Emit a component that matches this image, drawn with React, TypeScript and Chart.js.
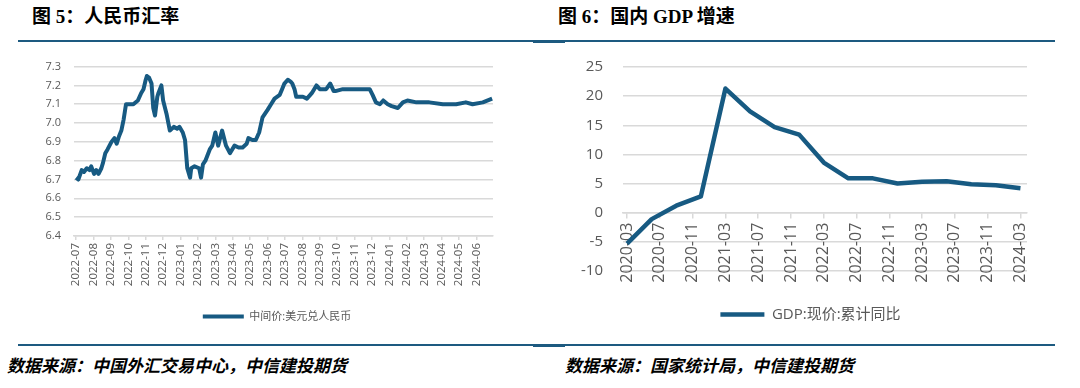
import React, { useEffect, useRef } from 'react';
import { Chart, registerables } from 'chart.js';

Chart.register(...registerables);

// ---------- Figure 5: RMB exchange rate (daily central parity) ----------
const fxSeriesName = '中间价:美元兑人民币';
const fxTickLabels = [
  '2022-07', '2022-08', '2022-09', '2022-10', '2022-11', '2022-12',
  '2023-01', '2023-02', '2023-03', '2023-04', '2023-05', '2023-06',
  '2023-07', '2023-08', '2023-09', '2023-10', '2023-11', '2023-12',
  '2024-01', '2024-02', '2024-03', '2024-04', '2024-05', '2024-06',
];
const fxYTicks = [6.4, 6.5, 6.6, 6.7, 6.8, 6.9, 7.0, 7.1, 7.2, 7.3];
const fxDates = [
  '2022-07-01', '2022-07-05', '2022-07-11', '2022-07-15', '2022-07-20', '2022-07-25', '2022-07-28',
  '2022-08-02', '2022-08-06', '2022-08-10', '2022-08-15', '2022-08-18', '2022-08-22', '2022-08-26',
  '2022-09-02', '2022-09-07', '2022-09-11', '2022-09-15', '2022-09-19', '2022-09-23', '2022-09-27',
  '2022-10-10', '2022-10-18', '2022-10-24', '2022-10-28',
  '2022-11-01', '2022-11-03', '2022-11-07', '2022-11-11', '2022-11-14', '2022-11-17', '2022-11-21',
  '2022-11-23', '2022-11-28',
  '2022-12-01', '2022-12-07', '2022-12-13', '2022-12-20', '2022-12-26', '2022-12-30',
  '2023-01-05', '2023-01-09', '2023-01-13', '2023-01-18', '2023-01-20', '2023-01-26',
  '2023-02-03', '2023-02-06', '2023-02-09', '2023-02-13', '2023-02-20', '2023-02-24',
  '2023-03-01', '2023-03-06', '2023-03-13', '2023-03-20', '2023-03-27',
  '2023-04-04', '2023-04-11', '2023-04-18', '2023-04-25', '2023-04-28',
  '2023-05-05', '2023-05-11', '2023-05-17', '2023-05-23',
  '2023-06-01', '2023-06-07', '2023-06-13', '2023-06-22', '2023-06-26', '2023-06-30',
  '2023-07-06', '2023-07-11', '2023-07-14', '2023-07-18', '2023-07-21', '2023-07-27',
  '2023-08-02', '2023-08-09', '2023-08-15', '2023-08-18', '2023-08-26',
  '2023-09-01', '2023-09-06', '2023-09-12', '2023-09-19', '2023-09-25', '2023-09-28',
  '2023-10-11', '2023-11-09', '2023-11-27',
  '2023-12-02', '2023-12-08', '2023-12-15', '2023-12-21', '2023-12-29',
  '2024-01-05', '2024-01-16', '2024-01-25',
  '2024-02-02', '2024-02-17', '2024-03-10', '2024-04-03', '2024-04-26',
  '2024-05-13', '2024-05-25', '2024-06-12', '2024-06-28',
];
const fxValues = [
  6.71, 6.70, 6.75, 6.74, 6.76, 6.75, 6.77,
  6.73, 6.75, 6.73, 6.76, 6.79, 6.84, 6.86,
  6.90, 6.92, 6.89, 6.93, 6.96, 7.02, 7.10,
  7.10, 7.12, 7.16, 7.18,
  7.23, 7.25, 7.24, 7.21, 7.08, 7.04, 7.14,
  7.16, 7.20,
  7.12, 7.05, 6.96, 6.98, 6.97, 6.98,
  6.95, 6.91, 6.76, 6.71, 6.76, 6.77,
  6.76, 6.71, 6.78, 6.80, 6.86, 6.88,
  6.95, 6.88, 6.96, 6.88, 6.84,
  6.88, 6.87, 6.87, 6.89, 6.92,
  6.91, 6.91, 6.95, 7.03,
  7.07, 7.10, 7.13, 7.15, 7.18, 7.21,
  7.23, 7.22, 7.21, 7.18, 7.14, 7.14,
  7.14, 7.13, 7.15, 7.16, 7.20,
  7.18, 7.18, 7.18, 7.21, 7.17, 7.17,
  7.18, 7.18, 7.18,
  7.15, 7.11, 7.10, 7.12, 7.10,
  7.09, 7.08, 7.11,
  7.12, 7.11, 7.11, 7.10, 7.10,
  7.11, 7.10, 7.11, 7.13,
];

// ---------- Figure 6: GDP growth (quarterly, cumulative YoY, nominal) ----------
const gdpSeriesName = 'GDP:现价:累计同比';
const gdpTickLabels = [
  '2020-03', '2020-07', '2020-11', '2021-03', '2021-07', '2021-11', '2022-03',
  '2022-07', '2022-11', '2023-03', '2023-07', '2023-11', '2024-03',
];
const gdpYTicks = [-10, -5, 0, 5, 10, 15, 20, 25];
const gdpDates = [
  '2020-03', '2020-06', '2020-09', '2020-12', '2021-03', '2021-06', '2021-09', '2021-12',
  '2022-03', '2022-06', '2022-09', '2022-12', '2023-03', '2023-06', '2023-09', '2023-12',
  '2024-03',
];
const gdpValues = [
  -5.3, -1.1, 1.2, 2.8, 21.3, 17.4, 14.7, 13.4,
  8.6, 5.9, 5.9, 5.0, 5.3, 5.4, 4.9, 4.7,
  4.2,
];

const LINE_COLOR = '#175a82';
const GRID_COLOR = '#d9d9d9';
const TICK_COLOR = '#595959';
const FONT = "'Open Sans', 'Noto Sans CJK SC', sans-serif";

function monthIndex(s: string, base: string): number {
  const [y, m, d] = s.split('-').map(Number);
  const [by, bm] = base.split('-').map(Number);
  const dim = new Date(y, m, 0).getDate();
  return (y - by) * 12 + (m - bm) + (d ? (d - 1) / dim : 0);
}

// an empty right-hand axis that only reserves space, so the full-width legend stays centred
function spacerAxis(width: number) {
  return {
    type: 'linear',
    position: 'right',
    display: true,
    ticks: { display: false },
    grid: { display: false, drawOnChartArea: false, drawTicks: false },
    border: { display: false },
    afterFit: (scale: any) => {
      scale.width = width;
    },
  };
}

export default function App() {
  const leftRef = useRef<HTMLCanvasElement>(null);
  const rightRef = useRef<HTMLCanvasElement>(null);

  useEffect(() => {
    Chart.defaults.font.family = FONT;
    const fxBase = fxTickLabels[0];
    const left = new Chart(leftRef.current!, {
      type: 'line',
      data: {
        datasets: [
          {
            label: fxSeriesName,
            data: fxDates.map((d, i) => ({ x: monthIndex(d, fxBase), y: fxValues[i] })),
            borderColor: LINE_COLOR,
            backgroundColor: LINE_COLOR,
            borderWidth: 4,
            pointRadius: 0,
            tension: 0,
            borderJoinStyle: 'round',
            yAxisID: 'y',
          },
        ],
      },
      options: {
        animation: false,
        responsive: false,
        devicePixelRatio: 1,
        layout: { padding: 0 },
        plugins: {
          tooltip: { enabled: false },
          legend: {
            position: 'bottom',
            labels: {
              usePointStyle: true,
              pointStyle: 'line',
              pointStyleWidth: 41,
              padding: 25,
              color: TICK_COLOR,
              font: { size: 11, family: FONT },
            },
          },
        },
        scales: {
          x: {
            type: 'linear',
            min: -0.12,
            max: 23.95,
            afterBuildTicks: (scale: any) => {
              scale.ticks = fxTickLabels.map((l) => ({ value: monthIndex(l, fxBase) }));
            },
            afterFit: (scale: any) => {
              scale.height = 50;
            },
            ticks: {
              autoSkip: false,
              minRotation: 90,
              maxRotation: 90,
              padding: 3,
              color: TICK_COLOR,
              font: { size: 11.5, family: FONT },
              callback: (_v: any, i: number) => fxTickLabels[i],
            },
            grid: { drawOnChartArea: false, drawTicks: true, tickLength: 4, color: GRID_COLOR, lineWidth: 1.5 },
            border: { display: true, color: GRID_COLOR, width: 1.5 },
          },
          y: {
            type: 'linear',
            position: 'left',
            min: 6.4,
            max: 7.3,
            afterBuildTicks: (scale: any) => {
              scale.ticks = fxYTicks.map((v) => ({ value: v }));
            },
            afterFit: (scale: any) => {
              scale.width = 54;
            },
            ticks: {
              padding: 13,
              color: TICK_COLOR,
              font: { size: 11, family: FONT },
              callback: (v: any) => Number(v).toFixed(1),
            },
            grid: { color: GRID_COLOR, lineWidth: 1.5, drawTicks: false },
            border: { display: false },
          },
          ySpace: spacerAxis(41),
        },
      },
    } as any);

    const gdpBase = gdpTickLabels[0];
    const right = new Chart(rightRef.current!, {
      type: 'line',
      data: {
        datasets: [
          {
            label: gdpSeriesName,
            data: gdpDates.map((d, i) => ({ x: monthIndex(d, gdpBase), y: gdpValues[i] })),
            borderColor: LINE_COLOR,
            backgroundColor: LINE_COLOR,
            borderWidth: 4.5,
            pointRadius: 0,
            tension: 0,
            borderJoinStyle: 'round',
            yAxisID: 'y',
          },
        ],
      },
      options: {
        animation: false,
        responsive: false,
        devicePixelRatio: 1,
        layout: { padding: 0 },
        plugins: {
          tooltip: { enabled: false },
          legend: {
            position: 'bottom',
            labels: {
              usePointStyle: true,
              pointStyle: 'line',
              pointStyleWidth: 44,
              padding: 36,
              color: TICK_COLOR,
              font: { size: 15, family: FONT },
            },
          },
        },
        scales: {
          x: {
            type: 'linear',
            position: { y: 0 },
            min: -0.5,
            max: 48.8,
            afterBuildTicks: (scale: any) => {
              scale.ticks = gdpTickLabels.map((l) => ({ value: monthIndex(l, gdpBase) }));
            },
            ticks: {
              autoSkip: false,
              minRotation: 90,
              maxRotation: 90,
              padding: 5,
              color: TICK_COLOR,
              font: { size: 16, family: FONT },
              callback: (_v: any, i: number) => gdpTickLabels[i],
            },
            grid: { drawOnChartArea: false, drawTicks: true, tickLength: 5, color: GRID_COLOR, lineWidth: 1.5 },
            border: { display: true, color: GRID_COLOR, width: 1.5 },
          },
          y: {
            type: 'linear',
            position: 'left',
            min: -10,
            max: 25,
            afterBuildTicks: (scale: any) => {
              scale.ticks = gdpYTicks.map((v) => ({ value: v }));
            },
            afterFit: (scale: any) => {
              scale.width = 63;
            },
            ticks: {
              padding: 20,
              color: TICK_COLOR,
              font: { size: 15, family: FONT },
            },
            grid: { color: GRID_COLOR, lineWidth: 1.5, drawTicks: false },
            border: { display: false },
          },
          ySpace: spacerAxis(34),
        },
      },
    } as any);

    return () => {
      left.destroy();
      right.destroy();
    };
  }, []);

  const rule = (top: number): React.CSSProperties => ({
    position: 'absolute',
    left: 18,
    top,
    width: 1037,
    height: 2,
    background: '#1d5a80',
  });
  const ruleThick = (top: number): React.CSSProperties => ({
    position: 'absolute',
    left: 533,
    top: top - 0.5,
    width: 32,
    height: 3,
    background: '#1d5a80',
  });
  const titleStyle: React.CSSProperties = {
    position: 'absolute',
    top: 6,
    fontFamily: "'Liberation Serif', 'Noto Sans CJK SC', serif",
    fontWeight: 700,
    fontSize: 19,
    lineHeight: '22px',
    color: '#000',
    whiteSpace: 'nowrap',
  };
  const sourceStyle: React.CSSProperties = {
    position: 'absolute',
    top: 355,
    fontFamily: "'Noto Sans CJK SC', sans-serif",
    fontWeight: 700,
    fontStyle: 'italic',
    fontSize: 17,
    lineHeight: '20px',
    color: '#000',
    whiteSpace: 'nowrap',
  };

  return (
    <div
      style={{
        position: 'fixed',
        left: 0,
        top: 0,
        width: 1080,
        height: 388,
        background: '#fff',
        overflow: 'hidden',
      }}
    >
      <div style={{ ...titleStyle, left: 32 }}>图 5：人民币汇率</div>
      <div style={{ ...titleStyle, left: 558 }}>图 6：国内 GDP 增速</div>
      <div style={rule(40)} />
      <div style={ruleThick(40)} />
      <canvas
        ref={leftRef}
        width={514}
        height={285}
        style={{ position: 'absolute', left: 20, top: 47, width: 514, height: 285 }}
      />
      <canvas
        ref={rightRef}
        width={501}
        height={294}
        style={{ position: 'absolute', left: 560, top: 38, width: 501, height: 294 }}
      />
      <div style={rule(344)} />
      <div style={ruleThick(344)} />
      <div style={{ ...sourceStyle, left: 7 }}>数据来源：中国外汇交易中心，中信建投期货</div>
      <div style={{ ...sourceStyle, left: 565 }}>数据来源：国家统计局，中信建投期货</div>
    </div>
  );
}
